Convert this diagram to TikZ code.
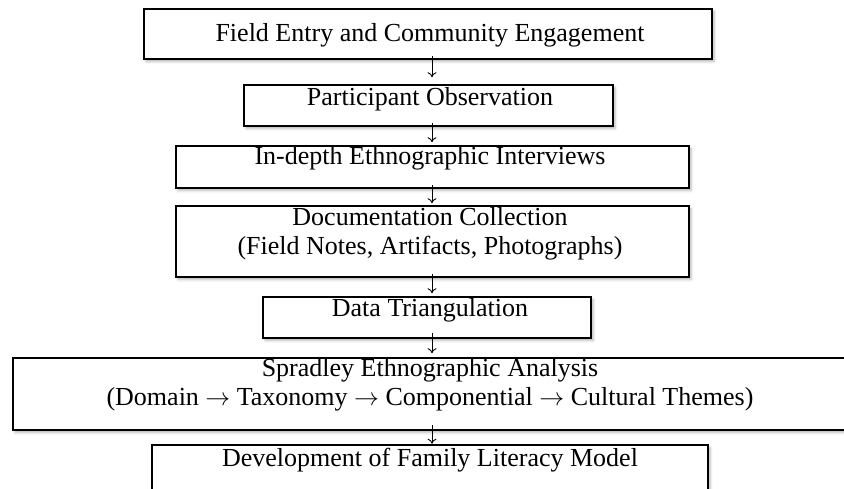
\documentclass[tikz,border=0pt]{standalone}
\usepackage{fontspec}
\setmainfont{Liberation Serif}
\usetikzlibrary{arrows.meta,shadows.blur}
\begin{document}
\begin{tikzpicture}[x=1pt,y=-1pt,
  box/.style={draw, line width=1.6pt, fill=white, inner sep=0pt,
    blur shadow={shadow xshift=2pt, shadow yshift=-2.5pt, shadow blur radius=2.5pt, shadow opacity=30}},
  lbl/.style={inner sep=0pt, anchor=north, align=center, font=\fontsize{26}{29}\selectfont},
  arr/.style={-{To[length=5pt,width=9pt]}, line width=0.9pt}]
\useasboundingbox (0,0) rectangle (844,489);
\clip (0,0) rectangle (844,489);
\coordinate (ax) at (432,0);
% boxes
\node[box, minimum width=568pt, minimum height=50pt] (b1) at (428,34) {};
\node[box, minimum width=369pt, minimum height=41pt] (b2) at (428.5,105.5) {};
\node[box, minimum width=513pt, minimum height=42pt] (b3) at (432.5,167) {};
\node[box, minimum width=513pt, minimum height=71pt] (b4) at (432.5,241.5) {};
\node[box, minimum width=328pt, minimum height=41pt] (b5) at (427,317.5) {};
\node[box, minimum width=834pt, minimum height=72pt] (b6) at (430,394) {};
\node[box, minimum width=556pt, minimum height=55pt] (b7) at (430,472.5) {};
% texts
\node[lbl] (t1) at (430,23) {Field Entry and Community Engagement};
\node[lbl] (t2) at (430,87) {Participant Observation};
\node[lbl] (t3) at (430,146) {In-depth Ethnographic Interviews};
\node[lbl] (t4) at (430,207) {Documentation Collection\\(Field Notes, Artifacts, Photographs)};
\node[lbl] (t5) at (430,298) {Data Triangulation};
\node[lbl] (t6) at (430,358) {Spradley Ethnographic Analysis\\(Domain $\rightarrow$ Taxonomy $\rightarrow$ Componential $\rightarrow$ Cultural Themes)};
\node[lbl] (t7) at (430,448) {Development of Family Literacy Model};
% arrows
\draw[arr, shorten <=-4pt, shorten >=7pt] (b1.south -| ax) -- (b2.north -| ax);
\draw[arr, shorten <=-4pt, shorten >=3pt] (b2.south -| ax) -- (b3.north -| ax);
\draw[arr, shorten <=-4pt, shorten >=2pt] (b3.south -| ax) -- (b4.north -| ax);
\draw[arr, shorten <=-4pt, shorten >=3pt] (b4.south -| ax) -- (b5.north -| ax);
\draw[arr, shorten <=-6pt, shorten >=4pt] (b5.south -| ax) -- (b6.north -| ax);
\draw[arr, shorten <=-6pt, shorten >=0.5pt] (b6.south -| ax) -- (b7.north -| ax);
\end{tikzpicture}
\end{document}
